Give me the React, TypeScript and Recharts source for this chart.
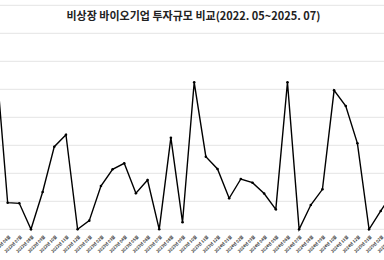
import { CartesianGrid, Line, LineChart, XAxis, YAxis } from "recharts"

const months = [
  "2022년 05월", "2022년 06월", "2022년 07월", "2022년 08월", "2022년 09월", "2022년 10월",
  "2022년 11월", "2022년 12월", "2023년 01월", "2023년 02월", "2023년 03월", "2023년 04월",
  "2023년 05월", "2023년 06월", "2023년 07월", "2023년 08월", "2023년 09월", "2023년 10월",
  "2023년 11월", "2023년 12월", "2024년 01월", "2024년 02월", "2024년 03월", "2024년 04월",
  "2024년 05월", "2024년 06월", "2024년 07월", "2024년 08월", "2024년 09월", "2024년 10월",
  "2024년 11월", "2024년 12월", "2025년 01월", "2025년 02월", "2025년 03월",
]

const amounts = [
  3020, 475, 464, 0, 666, 1475, 1689, 0, 154, 773, 1071, 1179,
  643, 880, 0, 1636, 125, 2625, 1296, 1077, 554, 898, 832, 639,
  357, 2625, 0, 434, 714, 2482, 2202, 1536, 0, 327, 648,
]

const yTicks = [0, 500, 1000, 1500, 2000, 2500, 3000, 3500, 4000]

const data = months.map((month, i) => ({ month, amount: amounts[i] }))

function MonthTick(props: any) {
  const { x, y, payload } = props
  return (
    <g transform={`translate(${x},${y})`}>
      <text
        x={2}
        y={2}
        transform="rotate(-45)"
        textAnchor="end"
        fontSize={4}
        fontWeight={700}
        fill="#333"
        fontFamily="Noto Sans CJK KR"
      >
        {payload.value}
      </text>
    </g>
  )
}

export default function App() {
  return (
    <div
      style={{
        position: "absolute",
        left: 0,
        top: 0,
        width: 384,
        height: 260,
        overflow: "hidden",
        background: "#fff",
        fontFamily: "Noto Sans CJK KR",
      }}
    >
      <div style={{ position: "absolute", left: -4.4, top: 0 }}>
        <LineChart
          width={396.4}
          height={260}
          data={data}
          margin={{ top: 5.3, right: 0, bottom: 0.7, left: 0 }}
        >
          <CartesianGrid vertical={false} stroke="#e4e4e4" />
          <XAxis
            dataKey="month"
            interval={0}
            height={30}
            axisLine={false}
            tickLine={false}
            tick={<MonthTick />}
          />
          <YAxis hide domain={[0, 4000]} ticks={yTicks} />
          <Line
            type="linear"
            dataKey="amount"
            stroke="#000"
            strokeWidth={1.4}
            dot={{ r: 1.3, fill: "#000", stroke: "none" }}
            isAnimationActive={false}
          />
        </LineChart>
      </div>
      <div
        style={{
          position: "absolute",
          left: 0,
          top: 9,
          width: 387,
          textAlign: "center",
          fontSize: 11,
          lineHeight: "13px",
          fontWeight: 700,
          color: "#222",
        }}
      >
        비상장 바이오기업 투자규모 비교(2022. 05~2025. 07)
      </div>
    </div>
  )
}
